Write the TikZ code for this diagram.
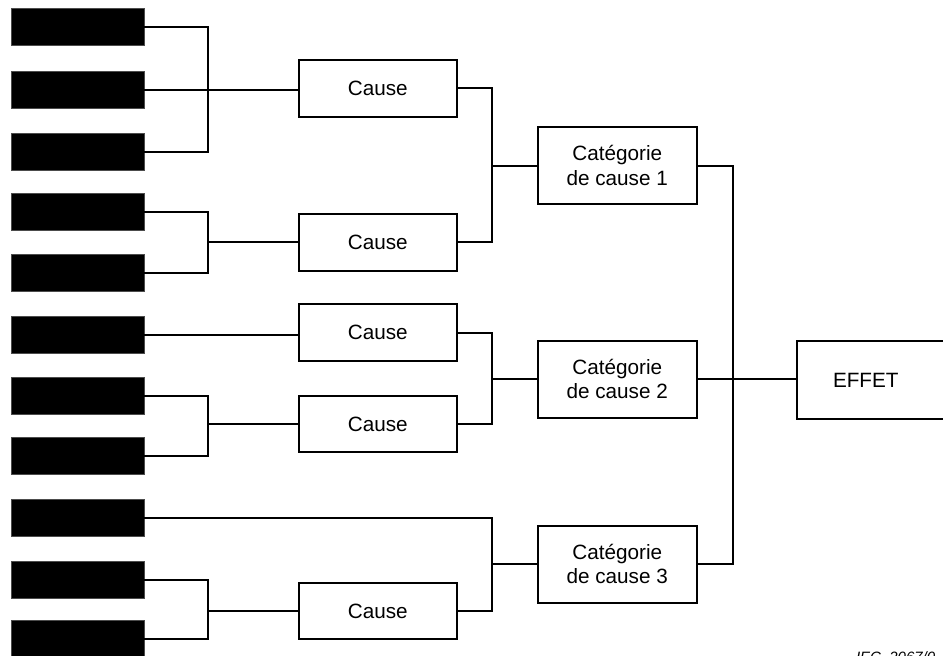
\documentclass[tikz,border=0pt]{standalone}
\usepackage{fontspec}
\setmainfont{Liberation Sans}
\begin{document}
\begin{tikzpicture}[x=1pt,y=-1pt,
  line width=2pt,
  blk/.style={fill=black,draw=black!70,line width=0.6pt,minimum width=133pt,minimum height=37pt,inner sep=0pt,outer sep=0pt},
  causebox/.style={draw=black,line width=2pt,fill=white,minimum width=157.5pt,minimum height=56.7pt,inner sep=0pt,outer sep=0pt,font=\fontsize{20.7}{24.3}\selectfont},
  catbox/.style={draw=black,line width=2pt,fill=white,minimum width=158.5pt,minimum height=77.6pt,inner sep=0pt,outer sep=0pt,align=center,font=\fontsize{20.7}{24.3}\selectfont},
  conn/.style={draw=black,line width=2pt}]
\useasboundingbox (0,0) rectangle (943,656);
% black boxes
\node[blk] (b1) at (77.5,26.5) {};
\node[blk] (b2) at (77.5,89.5) {};
\node[blk] (b3) at (77.5,151.5) {};
\node[blk] (b4) at (77.5,212) {};
\node[blk] (b5) at (77.5,272.5) {};
\node[blk] (b6) at (77.5,334.5) {};
\node[blk] (b7) at (77.5,395.5) {};
\node[blk] (b8) at (77.5,455.5) {};
\node[blk] (b9) at (77.5,518) {};
\node[blk] (b10) at (77.5,580) {};
\node[blk] (b11) at (77.5,638.5) {};
% cause boxes
\node[causebox] (c1) at (377.75,88.3) {Cause};
\node[causebox] (c2) at (377.75,242.3) {Cause};
\node[causebox] (c3) at (377.75,332.5) {Cause};
\node[causebox] (c4) at (377.75,424) {Cause};
\node[causebox] (c5) at (377.75,611) {Cause};
% category boxes
\node[catbox] (k1) at (617.25,165.5) {Catégorie\\de cause 1};
\node[catbox] (k2) at (617.25,379.3) {Catégorie\\de cause 2};
\node[catbox] (k3) at (617.25,564.3) {Catégorie\\de cause 3};
% effect
\node[draw=black,line width=2pt,anchor=north west,minimum width=154pt,minimum height=78pt,inner xsep=36pt,inner ysep=0pt,text width=82pt,align=left,font=\fontsize{20.7}{24.3}\selectfont] (ef) at (796,340) {EFFET};
% junction columns
\coordinate (v1) at (208,0);
\coordinate (v2) at (492.3,0);
\coordinate (v3) at (733.3,0);
% first level
\draw[conn] (b1.east) -- (b1.east -| v1) -- (b3.east -| v1) -- (b3.east);
\draw[conn] (b2.east) -- (b2.east -| c1.west);
\draw[conn] (b4.east) -- (b4.east -| v1) -- (b5.east -| v1) -- (b5.east);
\draw[conn] (c2.west -| v1) -- (c2.west);
\draw[conn] (b6.east) -- (b6.east -| c3.west);
\draw[conn] (b7.east) -- (b7.east -| v1) -- (b8.east -| v1) -- (b8.east);
\draw[conn] (c4.west -| v1) -- (c4.west);
\draw[conn] (b10.east) -- (b10.east -| v1) -- (b11.east -| v1) -- (b11.east);
\draw[conn] (c5.west -| v1) -- (c5.west);
% second level
\draw[conn] (c1.east) -- (c1.east -| v2) -- (c2.east -| v2) -- (c2.east);
\draw[conn] (k1.west -| v2) -- (k1.west);
\draw[conn] (c3.east) -- (c3.east -| v2) -- (c4.east -| v2) -- (c4.east);
\draw[conn] (k2.west -| v2) -- (k2.west);
\draw[conn] (b9.east) -- (b9.east -| v2) -- (c5.east -| v2) -- (c5.east);
\draw[conn] (k3.west -| v2) -- (k3.west);
% third level
\draw[conn] (k1.east) -- (k1.east -| v3) -- (k3.east -| v3) -- (k3.east);
\draw[conn] (k2.east) -- (ef.west |- k2.east);
% reference
\node[anchor=base west,inner sep=0pt,font=\fontsize{15}{18}\selectfont\itshape] (ref) at (855,662) {IEC\ \ 2067/0};
\end{tikzpicture}
\end{document}
